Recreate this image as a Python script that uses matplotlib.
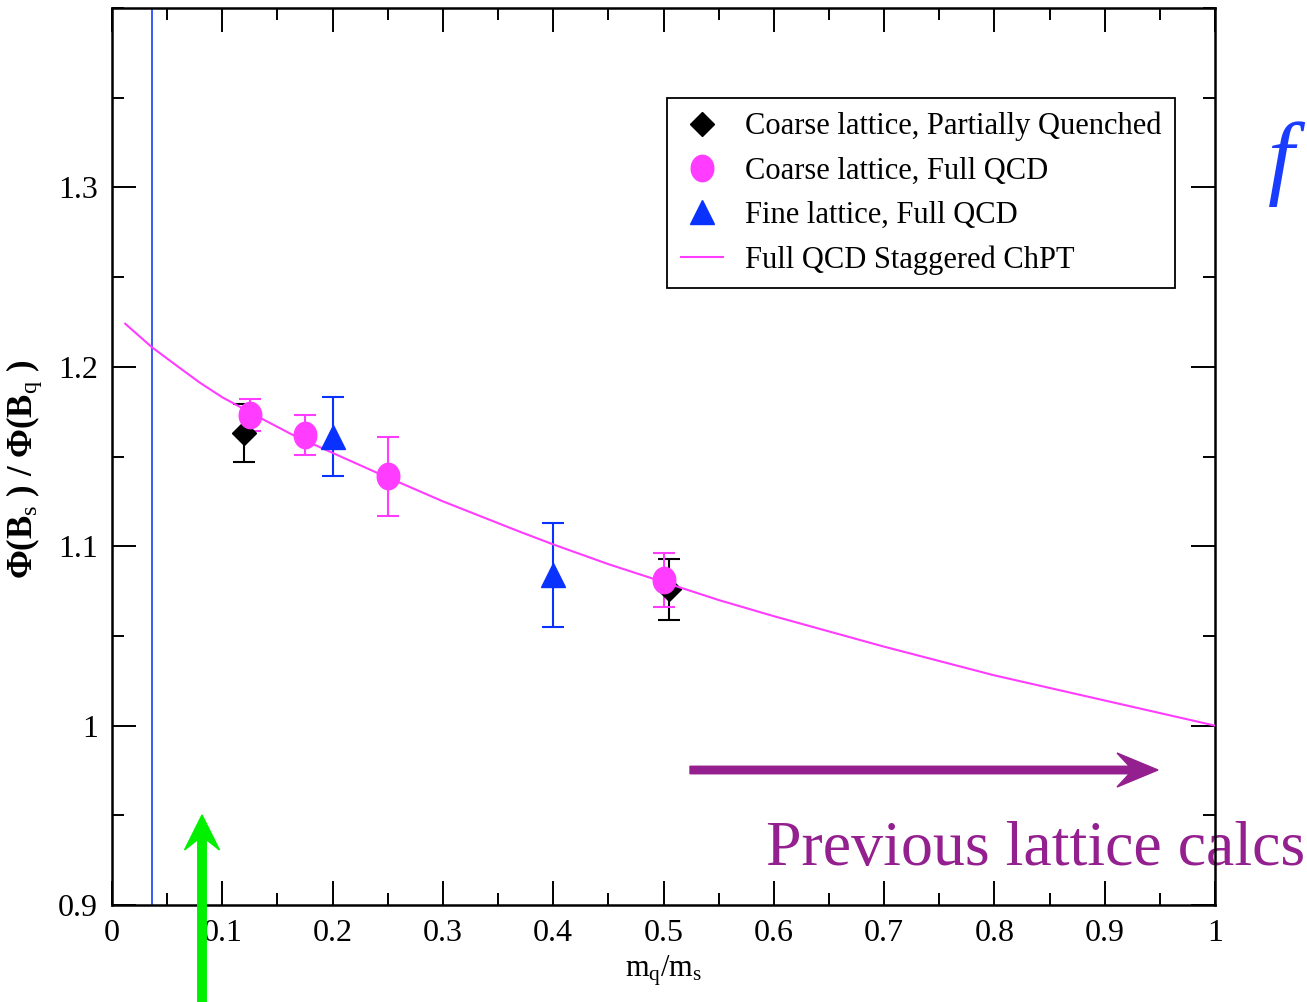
import numpy as np
import matplotlib
matplotlib.use("Agg")
import matplotlib.pyplot as plt
from matplotlib.path import Path
from matplotlib.patches import FancyArrow
from matplotlib.ticker import MultipleLocator, FuncFormatter

plt.rcParams["font.family"] = ["Liberation Serif", "DejaVu Serif"]
plt.rcParams["mathtext.fontset"] = "custom"
plt.rcParams["mathtext.rm"] = "Liberation Serif"
plt.rcParams["mathtext.it"] = "Liberation Serif:italic"
plt.rcParams["mathtext.bf"] = "Liberation Serif:bold"

# ---- data ----
pq_x = [0.12, 0.505]
pq_y = [1.163, 1.076]
pq_err = [0.016, 0.017]

full_x = [0.125, 0.175, 0.25, 0.50]
full_y = [1.173, 1.162, 1.139, 1.081]
full_err = [0.009, 0.011, 0.022, 0.015]

fine_x = [0.20, 0.40]
fine_y = [1.161, 1.084]
fine_err = [0.022, 0.029]

fit_x = [0.012, 0.036, 0.06, 0.08, 0.10, 0.136, 0.164, 0.182, 0.20, 0.24,
         0.30, 0.37, 0.40, 0.45, 0.50, 0.55, 0.60, 0.70, 0.80, 0.90, 1.00]
fit_y = [1.224, 1.211, 1.200, 1.191, 1.183, 1.171, 1.162, 1.157, 1.152, 1.141,
         1.125, 1.108, 1.101, 1.090, 1.080, 1.070, 1.061, 1.044, 1.028, 1.014, 1.000]

phys_x = 0.036

x_ticks = [0, 0.1, 0.2, 0.3, 0.4, 0.5, 0.6, 0.7, 0.8, 0.9, 1.0]
y_ticks = [0.9, 1.0, 1.1, 1.2, 1.3]

labels = ["Coarse lattice, Partially Quenched", "Coarse lattice, Full QCD",
          "Fine lattice, Full QCD", "Full QCD Staggered ChPT"]

MAGENTA = "#ff3cff"
BLUE = "#0a32ff"
LINEBLUE = "#1a3cff"
PURPLE = "#941f8f"
GREEN = "#00f000"

# slightly tall ellipse marker
t = np.linspace(0, 2 * np.pi, 60)
ellipse = Path(np.column_stack([0.855 * np.cos(t), np.sin(t)]), closed=True)

fig = plt.figure(figsize=(13.07, 10.02), dpi=100)
ax = fig.add_axes([112 / 1307, 97 / 1002, 1103 / 1307, 897 / 1002])

ax.axvline(phys_x, color=LINEBLUE, lw=1.2, zorder=1)

eb_kw = dict(fmt="none", capsize=8.0, elinewidth=1.5, capthick=1.5)
ax.errorbar(pq_x, pq_y, yerr=pq_err, ecolor="black", zorder=2, **eb_kw)
ax.errorbar(full_x, full_y, yerr=full_err, ecolor=MAGENTA, zorder=3, **eb_kw)
ax.errorbar(fine_x, fine_y, yerr=fine_err, ecolor=BLUE, zorder=3, **eb_kw)

h_pq, = ax.plot(pq_x, pq_y, ls="none", marker="D", ms=12.5, color="black",
                mec="black", zorder=3, label=labels[0])
h_fit, = ax.plot(fit_x, fit_y, color=MAGENTA, lw=1.5, zorder=4, label=labels[3])
h_full, = ax.plot(full_x, full_y, ls="none", marker=ellipse, ms=19, color=MAGENTA,
                  mec=MAGENTA, zorder=5, label=labels[1])
h_fine, = ax.plot(fine_x, fine_y, ls="none", marker="^", ms=17, color=BLUE,
                  mec=BLUE, zorder=6, label=labels[2])

ax.set_xlim(0, 1)
ax.set_ylim(0.9, 1.4)
ax.set_xticks(x_ticks)
ax.set_yticks(y_ticks)
ax.xaxis.set_minor_locator(MultipleLocator(0.05))
ax.yaxis.set_minor_locator(MultipleLocator(0.05))
fmt = FuncFormatter(lambda v, p: "%g" % round(v, 3))
ax.xaxis.set_major_formatter(fmt)
ax.yaxis.set_major_formatter(fmt)
ax.tick_params(which="both", direction="in", top=True, right=True, width=1.4,
               labelsize=23, color="black")
ax.tick_params(which="major", length=17, pad=10)
ax.tick_params(which="minor", length=8.5)
for s in ax.spines.values():
    s.set_linewidth(1.8)

ax.set_xlabel("m$_\\mathrm{q}$/m$_\\mathrm{s}$", fontsize=22, labelpad=4)
ax.set_ylabel("Φ(B$_\\mathrm{s}$ ) / Φ(B$_\\mathrm{q}$ )", fontsize=25,
              fontweight="bold")
ax.yaxis.set_label_coords(-0.062, 0.485)

leg = ax.legend(handles=[h_pq, h_full, h_fine, h_fit], loc="upper right",
                bbox_to_anchor=((1175 - 112) / 1103, (905 - 98) / 897),
                borderaxespad=0, fontsize=22, frameon=True, fancybox=False,
                edgecolor="black", framealpha=1, handlelength=1.4,
                handletextpad=0.7, labelspacing=0.5, borderpad=0.45)
leg.get_frame().set_linewidth(1.3)

# annotation arrows and text (inch coordinates)
inch = fig.dpi_scale_trans
ax.add_artist(FancyArrow(6.90, 2.32, 11.58 - 6.90, 0, width=0.075,
                         head_width=0.34, head_length=0.41, overhang=0.3,
                         length_includes_head=True, color=PURPLE,
                         transform=inch, clip_on=False, zorder=2))
ax.text(7.66, 1.37, "Previous lattice calcs", transform=inch, fontsize=46,
        color=PURPLE, ha="left", va="baseline", clip_on=False, zorder=2)
fig.add_artist(FancyArrow(2.02, -0.1, 0, 1.87 + 0.1, width=0.085,
                          head_width=0.35, head_length=0.35, overhang=0.3,
                          length_includes_head=True, color=GREEN,
                          transform=inch))
fig.text(12.68, 8.15, "f", transform=inch, fontsize=68, style="italic",
         color=LINEBLUE, ha="left", va="baseline")

fig.savefig("out.png", dpi=100)
